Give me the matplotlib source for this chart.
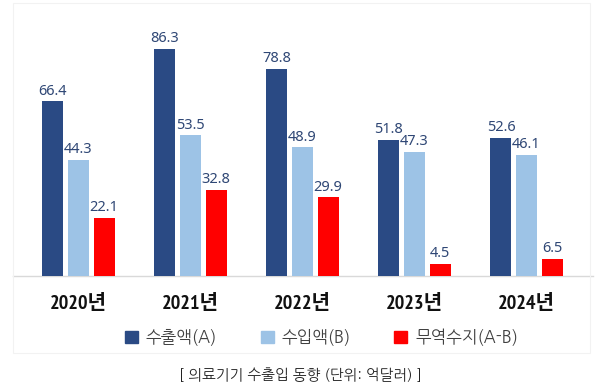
import matplotlib.pyplot as plt
from matplotlib.patches import Rectangle
import numpy as np

years = ['2020년', '2021년', '2022년', '2023년', '2024년']
export_vals = [66.4, 86.3, 78.8, 51.8, 52.6]
import_vals = [44.3, 53.5, 48.9, 47.3, 46.1]
balance_vals = [22.1, 32.8, 29.9, 4.5, 6.5]
series_names = ['수출액(A)', '수입액(B)', '무역수지(A-B)']
caption = '[ 의료기기 수출입 동향 (단위: 억달러) ]'

colors = ['#2a4a84', '#9dc3e6', '#ff0000']
label_color = '#2f4775'
kr = ['NanumGothic', 'Noto Sans CJK KR', 'DejaVu Sans']

fig = plt.figure(figsize=(6, 3.87), dpi=100)
fig.patch.set_facecolor('white')

# faint frame around chart area
fig.patches.append(Rectangle((13 / 600, 1 - 353 / 387), 577 / 600, 350 / 387,
                             transform=fig.transFigure, fill=False,
                             edgecolor='#f2f2f2', linewidth=0.8))

ax = fig.add_axes([0, 111 / 387, 1, 276 / 387])
ax.set_xlim(-0.7009, 4.656)
ax.set_ylim(0, 105)
ax.axis('off')

x = np.arange(len(years))
width = 0.1875
step = 0.228

for vals, off, c in zip([export_vals, import_vals, balance_vals], [-step, 0, step], colors):
    bars = ax.bar(x + off, vals, width=width, color=c, zorder=2)
    for b, v in zip(bars, vals):
        ax.annotate(f'{v:.1f}', (b.get_x() + b.get_width() / 2, v),
                    xytext=(0, 2), textcoords='offset points',
                    ha='center', va='bottom', fontsize=10.5,
                    color=label_color, family=['Noto Sans', 'DejaVu Sans'])

# baseline
ax.plot([(13 / 600) * 5.357 - 0.7009, (593 / 600) * 5.357 - 0.7009], [0, 0],
        color='#d9d9d9', linewidth=1, zorder=1, clip_on=False)

for xi, yr in zip(x, years):
    ax.text(xi, -10.3, yr, ha='center', va='center', fontsize=14.5,
            fontweight='bold', color='#111111',
            family=['PT Sans Narrow', 'Noto Sans CJK KR'])

handles = [Rectangle((0, 0), 1, 1, color=c) for c in colors]
leg = fig.legend(handles, series_names, loc='center',
                 bbox_to_anchor=(0.536, 1 - 337 / 387), ncol=3, frameon=False,
                 prop={'family': kr, 'size': 12},
                 handlelength=0.78, handleheight=0.78, handletextpad=0.5,
                 columnspacing=2.6, labelcolor='#404040')

fig.text(0.5, 1 - 375 / 387, caption, ha='center', va='center', fontsize=10.5,
         color='#222222', family=kr)

fig.savefig('out.png', dpi=100)
